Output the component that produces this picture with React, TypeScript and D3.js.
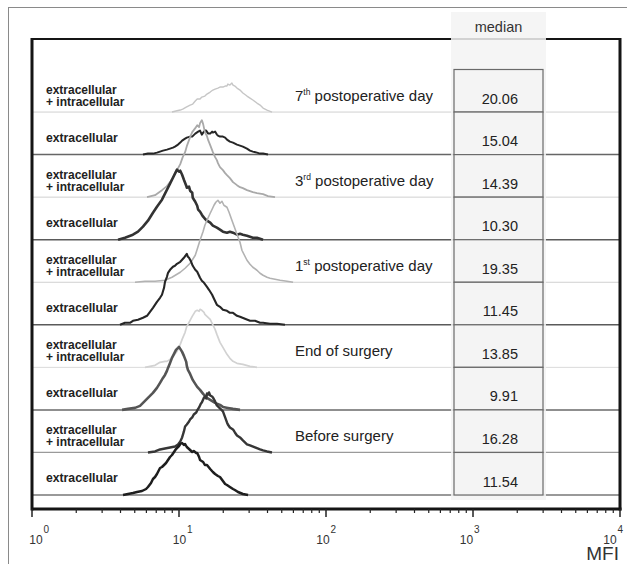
import React from "react";
import * as d3 from "d3";

// ---------- data ----------
const timepointMain = ["7", "3", "1", "End of surgery", "Before surgery"];
const timepointSup = ["th", "rd", "st", "", ""];
const timepointRest = [" postoperative day", " postoperative day", " postoperative day", "", ""];
const stainEI = ["extracellular", "+ intracellular"];
const stainE = ["extracellular"];
const medians = [20.06, 15.04, 14.39, 10.3, 19.35, 11.45, 13.85, 9.91, 16.28, 11.54];
const majorTicks = [1, 10, 100, 1000, 10000];
const tickExponents = ["0", "1", "2", "3", "4"];
const minorMultipliers = [2, 3, 4, 5, 6, 7, 8, 9];

// histograms: [MFI, count]
const hist7EI: [number, number][] = [
  [8.96, 0], [9.54, 2], [10.2, 4], [10.6, 6], [11.2, 10], [11.9, 14], [12.4, 16], [12.9, 22], [13.3, 26],
  [13.9, 26], [14.3, 30], [15.0, 32], [15.5, 36], [16.3, 40], [17.0, 44], [17.6, 46], [18.4, 48], [19.0, 50],
  [19.9, 50], [20.6, 52], [21.2, 52], [21.5, 56], [22.2, 54], [22.9, 58], [23.3, 54], [24.0, 52], [24.8, 48],
  [26.0, 44], [27.2, 38], [29.0, 32], [30.4, 28], [31.8, 24], [33.9, 18], [35.6, 14], [37.3, 8], [39.7, 4], [42.9, 0],
];
const hist7E: [number, number][] = [
  [5.69, 0], [6.15, 2], [6.65, 2], [7.08, 4], [7.43, 6], [7.78, 8], [8.28, 10], [8.69, 12], [9.1, 14], [9.39, 16],
  [9.85, 20], [10.2, 24], [10.5, 28], [11.0, 32], [11.3, 34], [11.9, 36], [12.3, 36], [12.9, 42], [13.5, 46],
  [13.9, 48], [14.3, 40], [14.6, 44], [15.0, 48], [15.3, 48], [15.8, 42], [16.3, 42], [16.8, 46], [17.0, 44],
  [17.6, 46], [18.1, 40], [18.4, 38], [19.0, 36], [19.9, 36], [20.6, 34], [21.2, 30], [22.2, 26], [23.3, 24],
  [24.8, 20], [26.0, 18], [27.2, 16], [29.0, 12], [30.4, 8], [31.8, 6], [33.9, 4], [35.6, 2], [37.3, 2], [40.3, 0],
];
const hist3EI: [number, number][] = [
  [6.06, 0], [6.87, 4], [7.66, 14], [8.28, 22], [8.69, 30], [9.1, 40], [9.69, 54], [10.2, 66], [10.6, 80],
  [11.0, 90], [11.3, 102], [11.5, 108], [11.9, 120], [12.3, 130], [12.9, 138], [13.3, 144], [13.7, 140],
  [13.9, 148], [14.3, 154], [14.6, 146], [15.0, 130], [15.5, 122], [15.8, 114], [16.3, 104], [16.8, 94],
  [17.0, 90], [17.6, 80], [18.1, 74], [18.4, 68], [19.0, 60], [19.9, 54], [20.6, 48], [21.2, 44], [22.2, 38],
  [23.3, 30], [24.8, 24], [26.0, 20], [27.2, 18], [29.0, 14], [30.4, 12], [31.8, 10], [33.9, 8], [37.3, 6],
  [40.3, 2], [45.0, 0],
];
const hist3E: [number, number][] = [
  [3.85, 0], [4.29, 4], [4.86, 10], [5.26, 16], [5.69, 26], [6.15, 38], [6.65, 54], [7.08, 66], [7.66, 80],
  [8.03, 92], [8.42, 104], [8.69, 112], [9.1, 124], [9.39, 132], [9.69, 140], [10.0, 136], [10.2, 138],
  [10.5, 130], [10.8, 120], [11.2, 108], [11.3, 104], [11.7, 106], [11.9, 98], [12.3, 94], [12.4, 84],
  [12.9, 76], [13.3, 68], [13.5, 60], [13.9, 56], [14.3, 50], [14.6, 46], [15.0, 42], [15.5, 38], [16.3, 34],
  [17.0, 28], [18.1, 24], [19.0, 20], [19.9, 16], [21.2, 14], [22.2, 16], [23.3, 14], [24.8, 10], [26.0, 12],
  [27.2, 10], [29.0, 8], [30.4, 6], [31.8, 4], [33.9, 4], [37.3, 0],
];
const hist1EI: [number, number][] = [
  [5.02, 0], [5.87, 2], [6.87, 2], [8.03, 4], [8.96, 10], [10.2, 20], [11.0, 28], [11.9, 38], [12.4, 46],
  [12.9, 54], [13.3, 66], [13.9, 84], [14.6, 102], [15.0, 114], [15.5, 124], [16.3, 138], [16.8, 146],
  [17.3, 154], [17.8, 160], [18.4, 164], [19.0, 158], [19.6, 162], [20.2, 154], [21.2, 150], [21.9, 140],
  [22.9, 124], [23.7, 112], [24.8, 96], [26.0, 80], [26.8, 64], [28.1, 52], [29.0, 44], [30.4, 36], [31.8, 30],
  [33.9, 24], [35.6, 18], [37.3, 14], [39.7, 10], [41.6, 8], [45.0, 6], [48.7, 4], [54.3, 2], [59.7, 0],
];
const hist1E: [number, number][] = [
  [3.97, 0], [4.29, 4], [4.64, 4], [4.86, 8], [5.26, 10], [5.69, 14], [6.06, 18], [6.35, 26], [6.65, 34],
  [7.08, 46], [7.43, 54], [7.66, 60], [7.91, 74], [8.03, 86], [8.28, 96], [8.42, 104], [8.69, 110], [9.1, 116],
  [9.39, 118], [9.69, 122], [10.2, 126], [10.5, 130], [10.8, 134], [11.3, 142], [11.5, 136], [11.7, 134],
  [12.1, 126], [12.4, 118], [12.9, 110], [13.3, 106], [13.9, 94], [14.3, 88], [14.8, 84], [15.5, 76], [16.0, 70],
  [16.8, 60], [17.3, 52], [18.1, 40], [19.0, 36], [19.9, 30], [21.2, 28], [22.2, 24], [23.3, 24], [24.8, 18],
  [26.0, 16], [28.1, 12], [30.4, 8], [32.9, 8], [35.6, 4], [37.3, 4], [41.6, 2], [46.4, 2], [52.6, 0],
];
const histEndEI: [number, number][] = [
  [5.87, 0], [6.35, 2], [6.87, 4], [7.43, 10], [8.03, 12], [8.28, 12], [8.69, 16], [9.1, 22], [9.69, 32],
  [10.2, 46], [10.5, 56], [11.0, 70], [11.3, 82], [11.9, 94], [12.3, 102], [12.9, 112], [13.3, 114], [13.7, 112],
  [13.9, 116], [14.3, 114], [14.8, 110], [15.0, 106], [15.5, 102], [16.3, 96], [16.8, 88], [17.6, 76], [18.1, 66],
  [19.0, 50], [19.9, 40], [21.2, 26], [22.2, 18], [23.3, 12], [24.8, 8], [27.2, 6], [30.4, 2], [33.9, 0],
];
const histEndE: [number, number][] = [
  [4.1, 0], [4.5, 2], [5.02, 4], [5.43, 8], [5.69, 14], [6.15, 24], [6.65, 34], [7.08, 44], [7.43, 54],
  [7.78, 64], [8.03, 70], [8.28, 78], [8.42, 84], [8.69, 94], [8.96, 104], [9.25, 112], [9.54, 120], [9.85, 124],
  [10.0, 126], [10.2, 122], [10.5, 116], [10.8, 108], [11.2, 96], [11.3, 88], [11.5, 80], [11.9, 72], [12.4, 60],
  [12.9, 52], [13.3, 46], [13.9, 40], [14.6, 32], [15.5, 24], [16.3, 20], [17.6, 14], [19.0, 10], [19.9, 6],
  [21.5, 4], [23.3, 2], [26.0, 0],
];
const histBeforeEI: [number, number][] = [
  [6.15, 0], [6.87, 2], [7.43, 6], [8.03, 8], [8.69, 10], [9.39, 12], [9.85, 16], [10.2, 22], [10.5, 30],
  [10.8, 42], [11.0, 52], [11.3, 56], [11.7, 62], [11.9, 66], [12.3, 70], [12.6, 76], [13.1, 80], [13.3, 84],
  [13.7, 90], [14.1, 98], [14.3, 100], [14.8, 110], [15.0, 112], [15.3, 108], [15.5, 118], [15.8, 116],
  [16.0, 120], [16.3, 114], [16.8, 112], [17.0, 110], [17.6, 102], [18.1, 94], [18.4, 92], [19.0, 88], [19.6, 84],
  [19.9, 82], [20.6, 70], [21.2, 60], [21.5, 56], [22.2, 50], [23.3, 46], [24.0, 40], [24.8, 34], [26.0, 30],
  [27.2, 24], [29.0, 16], [30.4, 14], [32.9, 10], [35.6, 6], [37.3, 4], [39.7, 2], [42.9, 0],
];
const histBeforeE: [number, number][] = [
  [4.16, 0], [4.5, 2], [4.86, 4], [5.18, 6], [5.6, 8], [5.97, 12], [6.15, 16], [6.45, 24], [6.65, 32], [6.87, 36],
  [7.08, 42], [7.43, 54], [7.66, 56], [7.91, 60], [8.16, 64], [8.42, 70], [8.69, 76], [8.96, 80], [9.25, 86],
  [9.54, 92], [9.69, 94], [10.0, 98], [10.2, 102], [10.5, 104], [10.8, 100], [11.0, 102], [11.3, 96], [11.7, 92],
  [11.9, 90], [12.3, 86], [12.6, 88], [13.1, 84], [13.3, 84], [13.7, 76], [13.9, 70], [14.6, 66], [15.0, 60],
  [15.5, 60], [16.3, 52], [17.0, 46], [17.6, 42], [18.4, 38], [19.0, 36], [19.9, 28], [20.6, 22], [21.2, 20],
  [22.2, 16], [23.3, 12], [24.0, 10], [25.2, 6], [27.2, 2], [29.5, 0],
];

const histograms = [hist7EI, hist7E, hist3EI, hist3E, hist1EI, hist1E, histEndEI, histEndE, histBeforeEI, histBeforeE];

// ---------- styles ----------
const histColors = ["#c6c6c6", "#262626", "#a9a9a9", "#333333", "#b2b2b2", "#262626", "#d2d2d2", "#555555", "#363636", "#1e1e1e"];
const histWidths = [1.4, 2.0, 1.8, 2.6, 1.6, 2.1, 1.7, 2.6, 2.4, 2.5];
const rowLineColors = ["#d0d0d0", "#666666", "#d0d0d0", "#5a5a5a", "#d0d0d0", "#5a5a5a", "#dadada", "#6a6a6a", "#9a9a9a", "#777777"];
const rowLineWidths = [1, 1.5, 1, 1.5, 1, 1.5, 1, 1.5, 1.3, 1.6];

const W = 627;
const H = 564;
const FONT = "'Liberation Sans', Arial, Helvetica, sans-serif";

export default function App() {
  const left = 32;
  const right = 620;
  const top = 39;
  const bottom = 509;

  const x = d3.scaleLog().domain([1, 10000]).range([left, right]);
  const labelX = d3.scaleLog().domain([1, 10000]).range([36, 610]);
  const row = d3.scaleLinear().domain([0, 10]).range([69.5, 495]);
  const h = d3.scaleLinear().domain([0, 200]).range([0, 100]);

  const minorTicks: number[] = [];
  majorTicks.slice(0, 4).forEach((d) => minorMultipliers.forEach((m) => minorTicks.push(d * m)));

  const colX0 = 451;
  const colX1 = 546;
  const boxX0 = 454;
  const boxX1 = 543;
  const fmt = d3.format(".2f");

  return (
    <svg
      width={W}
      height={H}
      style={{ position: "absolute", left: 0, top: 0, display: "block", background: "#fff" }}
      fontFamily={FONT}
    >
      <rect x={0} y={0} width={W} height={H} fill="#fff" />
      {/* outer border */}
      <rect x={8.5} y={7.5} width={700} height={700} fill="none" stroke="#8a8a8a" strokeWidth={1} />

      {/* row baselines */}
      {rowLineColors.map((c, i) => (
        <line key={"rl" + i} x1={left} x2={right} y1={row(i + 1)} y2={row(i + 1)} stroke={c} strokeWidth={rowLineWidths[i]} />
      ))}

      {/* histograms */}
      {histograms.map((data, i) => {
        const base = row(i + 1);
        const line = d3
          .line<[number, number]>()
          .x((d) => x(d[0]))
          .y((d) => base - h(d[1]));
        return (
          <path
            key={"h" + i}
            d={line(data) || ""}
            fill="none"
            stroke={histColors[i]}
            strokeWidth={histWidths[i]}
            strokeLinejoin="round"
          />
        );
      })}

      {/* frame */}
      <line x1={left} x2={right} y1={top} y2={top} stroke="#151515" strokeWidth={2} />
      <line x1={left} x2={right + 1.5} y1={bottom} y2={bottom} stroke="#151515" strokeWidth={3} />
      <line x1={left} x2={left} y1={top - 1} y2={bottom + 1.5} stroke="#151515" strokeWidth={3} />
      <line x1={right} x2={right} y1={top - 1} y2={bottom + 1.5} stroke="#151515" strokeWidth={3} />

      {/* median column */}
      <rect x={colX0} y={12} width={colX1 - colX0} height={row(10) + 5 - 12} fill="#f3f3f3" opacity={0.85} />
      <text x={(colX0 + colX1) / 2} y={32} textAnchor="middle" fontSize={14.5} fill="#333">
        median
      </text>
      {medians.map((m, i) => (
        <g key={"m" + i}>
          <rect
            x={boxX0}
            y={row(i)}
            width={boxX1 - boxX0}
            height={row(i + 1) - row(i)}
            fill="#f4f4f4"
            stroke="#6a6a6a"
            strokeWidth={1.2}
          />
          <text x={518} y={row(i + 1) - 8.5} textAnchor="end" fontSize={14.5} fill="#222">
            {fmt(m)}
          </text>
        </g>
      ))}

      {/* left stain labels */}
      {medians.map((_, i) => {
        const base = row(i + 1);
        if (i % 2 === 0) {
          return (
            <g key={"sl" + i} fontWeight="bold" fontSize={12} fill="#222">
              <text x={46} y={base - 18}>{stainEI[0]}</text>
              <text x={46} y={base - 6}>{stainEI[1]}</text>
            </g>
          );
        }
        return (
          <text key={"sl" + i} x={46} y={base - 13} fontWeight="bold" fontSize={12.2} fill="#222">
            {stainE[0]}
          </text>
        );
      })}

      {/* timepoint titles */}
      {timepointMain.map((t, k) => {
        const base = row(2 * k + 1) - 11;
        return (
          <text key={"tp" + k} x={295} y={base} fontSize={15} fill="#222">
            {t}
            {timepointSup[k] ? (
              <>
                <tspan fontSize={8.5} dy={-6}>
                  {timepointSup[k]}
                </tspan>
                <tspan dy={6}>{"\u00a0" + timepointRest[k].trim()}</tspan>
              </>
            ) : null}
          </text>
        );
      })}

      {/* axis ticks */}
      {majorTicks.map((t) => (
        <line key={"M" + t} x1={x(t)} x2={x(t)} y1={bottom} y2={bottom + 8} stroke="#222" strokeWidth={1.5} />
      ))}
      {minorTicks.map((t) => (
        <line key={"m" + t} x1={x(t)} x2={x(t)} y1={bottom} y2={bottom + 4} stroke="#222" strokeWidth={1.2} />
      ))}
      {majorTicks.map((t, k) => (
        <g key={"L" + t} fill="#333">
          <text x={labelX(t)} y={544} textAnchor="middle" fontSize={12}>
            10
          </text>
          <text x={labelX(t) + 7.5} y={533} fontSize={10}>
            {tickExponents[k]}
          </text>
        </g>
      ))}
      <text x={619} y={560} textAnchor="end" fontSize={19} fill="#333">
        MFI
      </text>
    </svg>
  );
}
